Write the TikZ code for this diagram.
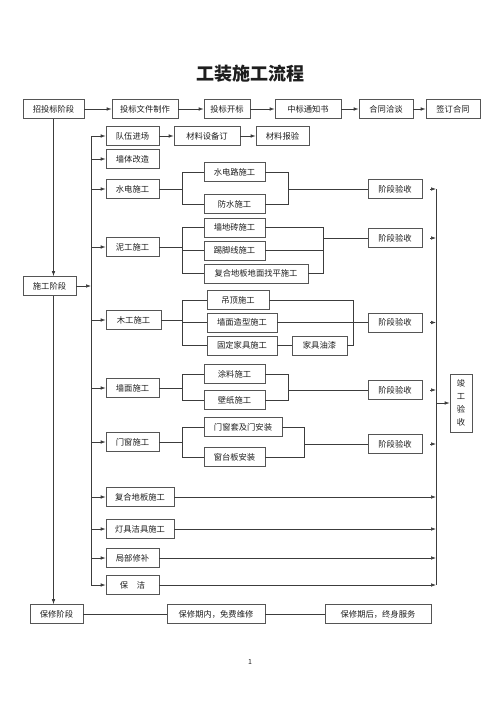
\documentclass[tikz,border=0pt]{standalone}
\usepackage{fontspec}
\setmainfont{Noto Sans CJK SC}
\usetikzlibrary{arrows.meta,calc}
\definecolor{linec}{HTML}{3C3C3C}
\definecolor{boxc}{HTML}{555555}
\definecolor{txtc}{HTML}{1E1E1E}
\begin{document}
\begin{tikzpicture}[x=1pt,y=-1pt,line width=0.7pt,
  box/.style={draw=boxc,fill=white,text=txtc,minimum height=19pt,inner sep=0pt,
    font=\fontsize{8.3}{10}\selectfont},
  arr/.style={draw=linec,-{Latex[length=5pt,width=3.6pt]}},
  ln/.style={draw=linec}]
\useasboundingbox (0,0) rectangle (500,707);

% title
\node[font=\fontsize{18}{20}\selectfont\bfseries,text=txtc] (title) at (250,74) {工装施工流程};

% row 1
\node[box,minimum width=61pt] (zb) at (53.5,109) {招投标阶段};
\node[box,minimum width=66pt] (tbwj) at (145,109) {投标文件制作};
\node[box,minimum width=46pt] (tbkb) at (227,109) {投标开标};
\node[box,minimum width=66pt] (zbtz) at (308,109) {中标通知书};
\node[box,minimum width=54pt] (htqt) at (386,109) {合同洽谈};
\node[box,minimum width=54pt] (qdht) at (453,109) {签订合同};

% row 2
\node[box,minimum width=53pt] (dw) at (132.5,136) {队伍进场};
\node[box,minimum width=66pt] (clsb) at (207,136) {材料设备订};
\node[box,minimum width=53pt] (clby) at (282.5,136) {材料报验};

\node[box,minimum width=53pt] (qt) at (132.5,159) {墙体改造};

% 水电
\node[box,minimum width=53pt] (sd) at (132.5,189) {水电施工};
\node[box,minimum width=61pt] (sdl) at (234.5,172) {水电路施工};
\node[box,minimum width=61pt] (fs) at (234.5,204) {防水施工};
\node[box,minimum width=54pt] (ys1) at (395,189) {阶段验收};

% 泥工
\node[box,minimum width=53pt] (ng) at (132.5,247) {泥工施工};
\node[box,minimum width=61pt] (qdz) at (234.5,227.5) {墙地砖施工};
\node[box,minimum width=61pt] (tjx) at (234.5,250.5) {踢脚线施工};
\node[box,minimum width=104pt] (fhdb) at (256,273.5) {复合地板地面找平施工};
\node[box,minimum width=54pt] (ys2) at (395,238) {阶段验收};

% 施工阶段
\node[box,minimum width=53pt] (sg) at (49.5,286) {施工阶段};

% 木工
\node[box,minimum width=55pt] (mg) at (133.5,320) {木工施工};
\node[box,minimum width=62pt] (dd) at (238,300) {吊顶施工};
\node[box,minimum width=70pt] (qmzx) at (242,322.5) {墙面造型施工};
\node[box,minimum width=70pt] (gdjj) at (242,345.5) {固定家具施工};
\node[box,minimum width=55pt] (jjyq) at (319.5,345.5) {家具油漆};
\node[box,minimum width=54pt] (ys3) at (395,322.5) {阶段验收};

% 墙面
\node[box,minimum width=53pt] (qm) at (132.5,388) {墙面施工};
\node[box,minimum width=61pt] (tl) at (234.5,374) {涂料施工};
\node[box,minimum width=61pt] (bz) at (234.5,400) {壁纸施工};
\node[box,minimum width=54pt] (ys4) at (395,390) {阶段验收};

% 门窗
\node[box,minimum width=53pt] (mc) at (132.5,442) {门窗施工};
\node[box,minimum width=78pt] (mct) at (243,427) {门窗套及门安装};
\node[box,minimum width=61pt] (ctb) at (234.5,457) {窗台板安装};
\node[box,minimum width=54pt] (ys5) at (395,444) {阶段验收};

% 竣工验收
\node[box,minimum width=22pt,minimum height=58pt,align=center,
  font=\fontsize{8.3}{13}\selectfont] (jg) at (461,403) {竣\\工\\验\\收};

% lower items
\node[box,minimum width=68pt] (fhdb2) at (140,497) {复合地板施工};
\node[box,minimum width=68pt] (djjj) at (140,529) {灯具洁具施工};
\node[box,minimum width=53pt] (jbxb) at (132.5,558) {局部修补};
\node[box,minimum width=53pt] (bj) at (132.5,585) {保\hspace{8.5pt}洁};

% 保修
\node[box,minimum width=53pt] (bx) at (56.5,614) {保修阶段};
\node[box,minimum width=98pt] (mf) at (216,614) {保修期内，免费维修};
\node[box,minimum width=106pt] (zs) at (378,614) {保修期后，终身服务};

% page number
\node[font=\fontsize{7}{8}\selectfont,text=txtc] (pg) at (250,662) {1};

% helper x positions
\coordinate (busL) at (91,0);
\coordinate (busR) at (436,0);
\coordinate (bl) at (182,0);
\coordinate (brA) at (288,0);
\coordinate (brB) at (323,0);
\coordinate (brC) at (353,0);
\coordinate (brD) at (304,0);

% row 1 arrows
\draw[arr] (zb) -- (tbwj);
\draw[arr] (tbwj) -- (tbkb);
\draw[arr] (tbkb) -- (zbtz);
\draw[arr] (zbtz) -- (htqt);
\draw[arr] (htqt) -- (qdht);
% row 2 arrows
\draw[arr] (dw) -- (clsb);
\draw[arr] (clsb) -- (clby);

% left vertical stage line
\draw[arr] (zb.south) -- (zb.south |- sg.north);
\draw[arr] (sg.south -| zb.south) -- (bx.north -| zb.south);

% left bus
\draw[ln] (dw.west -| busL) -- (bj.west -| busL);
\draw[arr] (sg.east) -- (sg.east -| busL);
\foreach \n in {dw,qt,sd,ng,mg,qm,mc,fhdb2,djjj,jbxb,bj}
  \draw[arr] (\n.west -| busL) -- (\n.west);

% 水电 branches
\draw[ln] (sd.east) -- (sd.east -| bl);
\draw[ln] (sdl.west) -- (sdl.west -| bl) -- (fs.west -| bl) -- (fs.west);
\draw[ln] (sdl.east) -- (sdl.east -| brA) -- (fs.east -| brA) -- (fs.east);
\draw[ln] (ys1.west -| brA) -- (ys1.west);

% 泥工 branches
\draw[ln] (ng.east) -- (ng.east -| bl);
\draw[ln] (qdz.west) -- (qdz.west -| bl) -- (fhdb.west -| bl) -- (fhdb.west);
\draw[ln] (tjx.west) -- (tjx.west -| bl);
\draw[ln] (qdz.east) -- (qdz.east -| brB) -- (fhdb.east -| brB) -- (fhdb.east);
\draw[ln] (tjx.east) -- (tjx.east -| brB);
\draw[ln] (ys2.west -| brB) -- (ys2.west);

% 木工 branches
\draw[ln] (mg.east) -- (mg.east -| bl);
\draw[ln] (dd.west) -- (dd.west -| bl) -- (gdjj.west -| bl) -- (gdjj.west);
\draw[ln] (qmzx.west) -- (qmzx.west -| bl);
\draw[ln] (dd.east) -- (dd.east -| brC) -- (jjyq.east -| brC) -- (jjyq.east);
\draw[ln] (gdjj.east) -- (jjyq.west);
\draw[ln] (qmzx.east) -- (ys3.west);

% 墙面 branches
\draw[ln] (qm.east) -- (qm.east -| bl);
\draw[ln] (tl.west) -- (tl.west -| bl) -- (bz.west -| bl) -- (bz.west);
\draw[ln] (tl.east) -- (tl.east -| brA) -- (bz.east -| brA) -- (bz.east);
\draw[ln] (ys4.west -| brA) -- (ys4.west);

% 门窗 branches
\draw[ln] (mc.east) -- (mc.east -| bl);
\draw[ln] (mct.west) -- (mct.west -| bl) -- (ctb.west -| bl) -- (ctb.west);
\draw[ln] (mct.east) -- (mct.east -| brD) -- (ctb.east -| brD) -- (ctb.east);
\draw[ln] (ys5.west -| brD) -- (ys5.west);

% right bus
\draw[ln] (ys1.east -| busR) -- (bj.east -| busR);
\foreach \n in {ys1,ys2,ys3,ys4,ys5}
  \draw[arr,shorten <=8pt] (\n.east) -- (\n.east -| busR);
\foreach \n in {fhdb2,djjj,jbxb,bj}
  \draw[arr] (\n.east) -- (\n.east -| busR);
\draw[arr] (jg.west -| busR) -- (jg.west);

% 保修 row
\draw[ln] (bx) -- (mf);
\draw[ln] (mf) -- (zs);
\end{tikzpicture}
\end{document}
